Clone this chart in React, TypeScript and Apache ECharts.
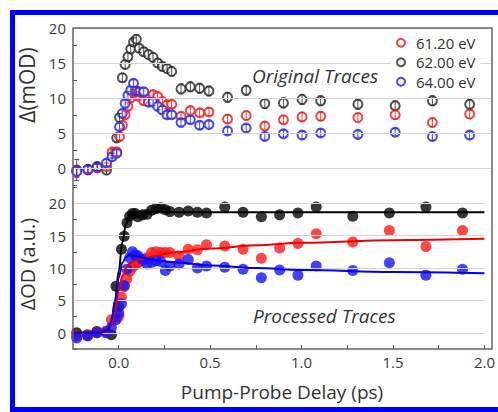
import React, { useEffect, useRef } from "react";
import * as echarts from "echarts";

// Pump-probe delays (ps), shared by all measured traces
const delays = [-0.23, -0.17, -0.12, -0.07, -0.04, -0.015, 0.0, 0.015, 0.03, 0.045, 0.06, 0.075, 0.09, 0.105, 0.13, 0.155, 0.18, 0.205, 0.23, 0.255, 0.28, 0.33, 0.38, 0.43, 0.48, 0.58, 0.68, 0.78, 0.88, 0.98, 1.08, 1.28, 1.48, 1.68, 1.88];

// Original traces, Δ(mOD)
const origRed = [-0.5, -0.3, 0.0, 0.2, 2.3, 2.3, 4.5, 6.1, 7.6, 8.8, 10.0, 10.7, 10.4, 10.2, 9.6, 9.8, 10.5, 10.2, 9.5, 9.0, 9.1, 7.4, 8.2, 7.9, 8.0, 7.0, 7.5, 6.0, 6.9, 7.3, 7.4, 7.2, 7.6, 6.5, 7.7];
const origBlack = [-0.3, -0.2, 0.2, -0.3, 2.0, 4.3, 7.2, 12.9, 14.8, 15.9, 17.0, 18.0, 18.4, 17.1, 16.6, 16.2, 15.8, 15.0, 14.5, 14.2, 13.8, 11.3, 11.6, 11.4, 11.0, 10.1, 11.1, 9.2, 9.3, 9.8, 9.6, 9.1, 8.9, 9.6, 9.1];
const origBlue = [-0.5, -0.2, 0.1, 0.7, 1.6, 2.1, 5.9, 7.8, 9.2, 10.4, 11.1, 12.1, 11.0, 10.9, 10.9, 9.4, 9.4, 8.8, 8.3, 7.6, 7.6, 6.5, 6.9, 6.1, 6.2, 5.3, 5.7, 4.5, 4.9, 4.7, 5.0, 4.8, 5.1, 4.5, 4.7];

// Error bars of the original traces (half widths)
const errRed = [0.8, 0.5, 0.5, 0.5, 0.5, 0.5, 0.5, 0.5, 0.5, 0.5, 0.5, 0.5, 0.5, 0.5, 0.5, 0.5, 0.5, 0.5, 0.5, 0.5, 0.5, 0.5, 0.5, 0.5, 0.5, 0.6, 0.6, 0.6, 0.6, 0.6, 0.6, 0.6, 0.6, 0.6, 0.6];
const errBlack = [1.5, 0.6, 0.6, 0.6, 0.6, 0.6, 0.6, 0.6, 0.6, 0.6, 0.6, 0.6, 0.6, 0.6, 0.6, 0.6, 0.6, 0.6, 0.6, 0.6, 0.6, 0.7, 0.7, 0.7, 0.7, 0.7, 0.7, 0.7, 0.7, 0.7, 0.7, 0.7, 0.7, 0.7, 0.7];
const errBlue = [0.8, 0.5, 0.5, 0.5, 0.5, 0.5, 0.5, 0.5, 0.5, 0.5, 0.5, 0.5, 0.5, 0.5, 0.5, 0.5, 0.5, 0.5, 0.5, 0.5, 0.5, 0.5, 0.5, 0.5, 0.5, 0.5, 0.5, 0.5, 0.5, 0.5, 0.5, 0.5, 0.5, 0.5, 0.5];

// Processed traces, ΔOD (a.u.)
const procRed = [-0.5, -0.4, 0.0, 0.2, 2.0, 2.3, 2.5, 5.5, 7.1, 8.3, 9.5, 10.1, 10.5, 10.8, 11.1, 11.6, 12.4, 12.5, 12.4, 12.4, 12.4, 11.9, 12.9, 12.8, 13.6, 13.4, 12.9, 11.5, 13.1, 13.8, 15.3, 14.0, 15.8, 13.3, 15.8];
const procBlack = [0.0, -0.3, 0.2, 0.2, -0.3, 7.2, 4.0, 12.9, 14.9, 17.0, 18.0, 18.4, 18.4, 17.9, 18.2, 18.3, 18.9, 19.2, 19.3, 19.0, 18.7, 18.6, 18.8, 18.6, 18.5, 19.4, 18.6, 17.9, 18.2, 18.5, 19.4, 18.0, 18.5, 19.4, 18.5];
const procBlue = [-0.8, -0.5, 0.0, 0.0, 0.8, 2.0, 3.0, 4.5, 7.3, 9.8, 11.6, 12.5, 12.0, 11.9, 11.3, 10.6, 10.9, 11.1, 11.0, 9.6, 10.3, 10.6, 11.3, 10.0, 10.3, 10.1, 9.8, 8.5, 9.7, 8.9, 10.3, 9.6, 10.8, 8.9, 9.8];

// Fitted curves
const fitDelays = [-0.25, -0.1, -0.06, -0.04, -0.02, 0.0, 0.02, 0.04, 0.06, 0.08, 0.1, 0.15, 0.2, 0.3, 0.5, 0.75, 1.0, 1.5, 2.0];
const fitBlack = [0, 0, 0.3, 1.5, 5.0, 9.5, 14.0, 16.8, 18.0, 18.4, 18.6, 18.6, 18.6, 18.6, 18.6, 18.6, 18.6, 18.6, 18.6];
const fitRed = [0, 0, 0.3, 1.2, 3.5, 6.5, 8.8, 10.0, 10.7, 11.0, 11.2, 11.6, 11.9, 12.4, 13.0, 13.5, 13.9, 14.3, 14.5];
const fitBlue = [0, 0, 0.4, 1.8, 5.0, 8.5, 10.8, 11.7, 12.0, 11.9, 11.8, 11.5, 11.2, 10.9, 10.4, 10.0, 9.7, 9.4, 9.2];

const seriesNames = ["61.20 eV", "62.00 eV", "64.00 eV"];
const gridValues = [0, 5, 10, 15, 20];

const FONT = "'Open Sans', 'Noto Sans', sans-serif";
const RED = "#ec2424";
const BLACK = "#333333";
const BLUE = "#2b2be8";

function pairs(xs: number[], ys: number[]) {
  return xs.map((x, i) => [x, ys[i]]);
}

function errorSeries(name: string, vals: number[], errs: number[], color: string) {
  return {
    type: "custom",
    name,
    xAxisIndex: 0,
    yAxisIndex: 0,
    silent: true,
    clip: true,
    z: 4,
    data: delays.map((d, i) => [d, vals[i] - errs[i], vals[i] + errs[i]]),
    encode: { x: 0, y: [1, 2] },
    renderItem: (params: any, api: any) => {
      const x = api.value(0);
      const lo = api.coord([x, api.value(1)]);
      const hi = api.coord([x, api.value(2)]);
      const w = 2.5;
      const st = { stroke: color, lineWidth: 1, opacity: 0.85 };
      return {
        type: "group",
        children: [
          { type: "line", shape: { x1: lo[0], y1: lo[1], x2: hi[0], y2: hi[1] }, style: st },
          { type: "line", shape: { x1: lo[0] - w, y1: lo[1], x2: lo[0] + w, y2: lo[1] }, style: st },
          { type: "line", shape: { x1: hi[0] - w, y1: hi[1], x2: hi[0] + w, y2: hi[1] }, style: st },
        ],
      };
    },
  };
}

function openScatter(name: string, vals: number[], color: string) {
  return {
    type: "scatter",
    name,
    xAxisIndex: 0,
    yAxisIndex: 0,
    symbol: "emptyCircle",
    symbolSize: 9,
    z: 3,
    itemStyle: { color, borderColor: color, borderWidth: 2.2, opacity: 0.85 },
    data: pairs(delays, vals),
  };
}

function filledScatter(name: string, vals: number[], color: string) {
  return {
    type: "scatter",
    name,
    xAxisIndex: 1,
    yAxisIndex: 1,
    symbol: "circle",
    symbolSize: 11,
    z: 3,
    itemStyle: { color },
    data: pairs(delays, vals),
  };
}

function fitLine(name: string, vals: number[], color: string) {
  return {
    type: "line",
    name,
    xAxisIndex: 1,
    yAxisIndex: 1,
    showSymbol: false,
    symbol: "none",
    smooth: 0.4,
    smoothMonotone: "x",
    clip: true,
    z: 5,
    lineStyle: { color, width: 2 },
    data: pairs(fitDelays, vals),
  };
}

function gridLineSeries(xi: number, yi: number) {
  return {
    type: "line",
    name: "grid" + yi,
    xAxisIndex: xi,
    yAxisIndex: yi,
    data: [],
    z: 1,
    markLine: {
      silent: true,
      symbol: "none",
      animation: false,
      label: { show: false },
      lineStyle: { color: "#d4d4d4", type: "solid", width: 1 },
      data: gridValues.map((v) => ({ yAxis: v })),
    },
  };
}

const yLabelFmt = (v: number) => (Math.abs(v % 5) < 1e-6 ? String(v) : "");
const xLabelFmt = (v: number) => {
  const r = Math.round(v * 2);
  return Math.abs(v * 2 - r) < 1e-6 ? (r / 2).toFixed(1) : "";
};

export default function App() {
  const ref = useRef<HTMLDivElement>(null);
  useEffect(() => {
    if (!ref.current) return;
    const chart = echarts.init(ref.current, undefined, { renderer: "svg" });
    const axisLabel = { fontFamily: FONT, fontSize: 15, color: "#3a3a3a" };
    const tick = { show: true, inside: true, length: 4, lineStyle: { color: "#555" } };
    const option: any = {
      animation: false,
      backgroundColor: "#ffffff",
      grid: [
        { left: 73, top: 28, width: 419, height: 157.5 },
        { left: 73, top: 187, width: 419, height: 162 },
      ],
      xAxis: [
        { type: "value", gridIndex: 0, min: -0.25, max: 2.0, interval: 0.25, show: false, axisLine: { onZero: false } },
        {
          type: "value",
          gridIndex: 1,
          position: "bottom",
          min: -0.25,
          max: 2.0,
          interval: 0.25,
          axisLine: { show: false, onZero: false },
          axisTick: tick,
          axisLabel: { ...axisLabel, margin: 5, formatter: xLabelFmt, showMinLabel: false },
          splitLine: { show: false },
        },
      ],
      yAxis: [
        {
          type: "value",
          gridIndex: 0,
          position: "left",
          min: -2.5,
          max: 20,
          interval: 2.5,
          axisLine: { show: false, onZero: false },
          axisTick: tick,
          axisLabel: { ...axisLabel, margin: 7, formatter: yLabelFmt },
          splitLine: { show: false },
        },
        {
          type: "value",
          gridIndex: 1,
          position: "left",
          min: -2.5,
          max: 22.5,
          interval: 2.5,
          axisLine: { show: false, onZero: false },
          axisTick: tick,
          axisLabel: { ...axisLabel, margin: 7, formatter: yLabelFmt },
          splitLine: { show: false },
        },
      ],
      legend: {
        data: seriesNames,
        orient: "vertical",
        left: 391,
        top: 30,
        align: "left",
        itemWidth: 20,
        itemHeight: 8,
        itemGap: 4,
        padding: 5,
        z: 10,
        backgroundColor: "#ffffff",
        selectedMode: false,
        textStyle: { fontFamily: FONT, fontSize: 15, color: "#333", lineHeight: 15.5 },
      },
      series: [
        gridLineSeries(0, 0),
        gridLineSeries(1, 1),
        openScatter(seriesNames[1], origBlack, BLACK),
        openScatter(seriesNames[0], origRed, RED),
        openScatter(seriesNames[2], origBlue, BLUE),
        errorSeries("errBlack", origBlack, errBlack, BLACK),
        errorSeries("errRed", origRed, errRed, RED),
        errorSeries("errBlue", origBlue, errBlue, BLUE),
        filledScatter("procBlack", procBlack, "#050505"),
        filledScatter("procRed", procRed, "#ff1a1a"),
        filledScatter("procBlue", procBlue, "#1414ff"),
        fitLine("fitBlack", fitBlack, "#000000"),
        fitLine("fitRed", fitRed, "#ee0000"),
        fitLine("fitBlue", fitBlue, "#0000ee"),
      ],
      graphic: [
        {
          type: "rect",
          z: 100,
          silent: true,
          shape: { x: 73, y: 28, width: 419, height: 321 },
          style: { fill: "none", stroke: "#666", lineWidth: 1.5 },
        },
        {
          type: "rect",
          z: 100,
          silent: true,
          shape: { x: 12.5, y: 12.5, width: 520, height: 397 },
          style: { fill: "none", stroke: "#0000ff", lineWidth: 5 },
        },
        {
          type: "text",
          z: 100,
          x: 27,
          y: 85,
          rotation: Math.PI / 2,
          style: { text: "Δ(mOD)", font: `21px ${FONT}`, fill: "#333", textAlign: "center", textVerticalAlign: "middle" },
        },
        {
          type: "text",
          z: 100,
          x: 27,
          y: 264,
          rotation: Math.PI / 2,
          style: { text: "ΔOD (a.u.)", font: `20px ${FONT}`, fill: "#333", textAlign: "center", textVerticalAlign: "middle" },
        },
        {
          type: "text",
          z: 100,
          x: 282,
          y: 392,
          style: { text: "Pump-Probe Delay (ps)", font: `19px ${FONT}`, fill: "#333", textAlign: "center", textVerticalAlign: "middle" },
        },
        {
          type: "text",
          z: 100,
          x: 252,
          y: 76,
          style: { text: "Original Traces", font: `italic 19px ${FONT}`, fill: "#333", textAlign: "left", textVerticalAlign: "middle" },
        },
        {
          type: "text",
          z: 100,
          x: 253,
          y: 316,
          style: { text: "Processed Traces", font: `italic 19px ${FONT}`, fill: "#333", textAlign: "left", textVerticalAlign: "middle" },
        },
      ],
    };
    chart.setOption(option);
    return () => chart.dispose();
  }, []);
  return (
    <div
      ref={ref}
      style={{ position: "absolute", left: 0, top: 0, width: 498, height: 412, background: "#fff" }}
    />
  );
}
